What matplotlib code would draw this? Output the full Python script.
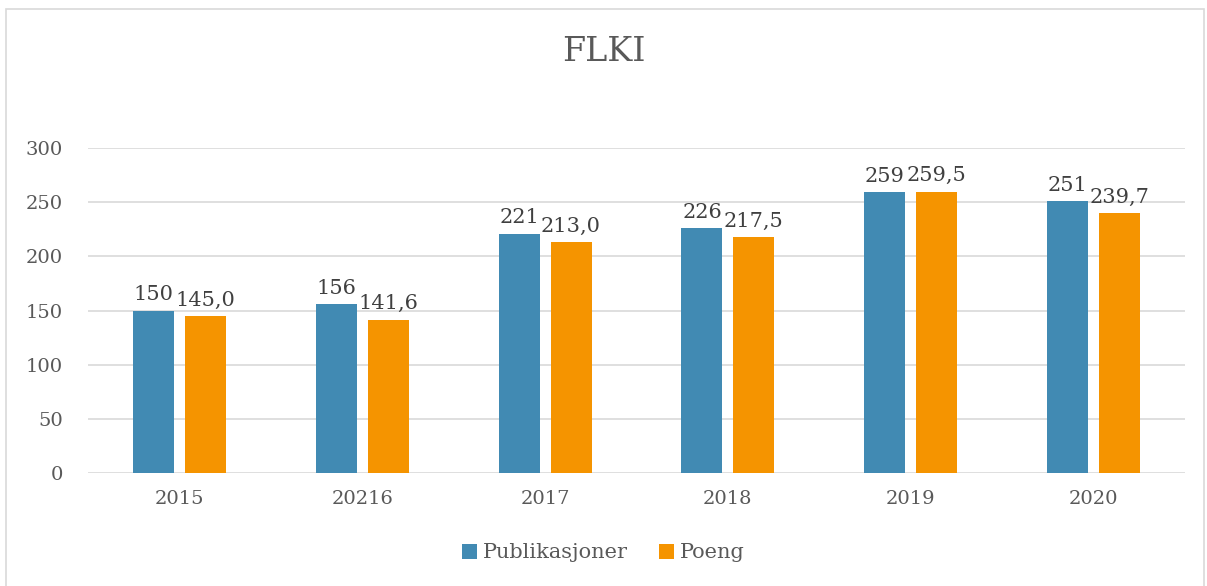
import matplotlib.pyplot as plt
import numpy as np
from matplotlib.patches import Rectangle

categories = ["2015", "20216", "2017", "2018", "2019", "2020"]
publikasjoner = [150, 156, 221, 226, 259, 251]
poeng = [145.0, 141.6, 213.0, 217.5, 259.5, 239.7]

BLUE = "#418AB3"
ORANGE = "#F59400"
TEXT = "#595959"

plt.rcParams["font.family"] = ["DejaVu Serif"]

fig = plt.figure(figsize=(12.07, 5.86), dpi=100, facecolor="white")
fig.patches.append(Rectangle((6 / 1207, -0.01), 1198 / 1207, 1 - 9 / 586 + 0.01,
                             transform=fig.transFigure, fill=False,
                             edgecolor="#D9D9D9", linewidth=1.2))

ax = fig.add_axes([88 / 1207, 1 - 473 / 586, (1185 - 88) / 1207, (473 - 148) / 586])
x = np.arange(len(categories))
w = 0.224
off = 0.142
b1 = ax.bar(x - off, publikasjoner, w, color=BLUE, label="Publikasjoner", zorder=3)
b2 = ax.bar(x + off, poeng, w, color=ORANGE, label="Poeng", zorder=3)

for rect, v in zip(b1, publikasjoner):
    ax.text(rect.get_x() + rect.get_width() / 2, v + 6, f"{v}", ha="center", va="bottom",
            fontsize=15, color="#404040")
for rect, v in zip(b2, poeng):
    ax.text(rect.get_x() + rect.get_width() / 2, v + 6, f"{v:.1f}".replace(".", ","),
            ha="center", va="bottom", fontsize=15, color="#404040")

ax.set_xlim(-0.5, len(categories) - 0.5)
ax.set_ylim(0, 300)
ax.set_yticks(range(0, 301, 50))
ax.set_xticks(x)
ax.set_xticklabels(categories)
ax.yaxis.grid(True, color="#D9D9D9", linewidth=1.2, zorder=0)
for s in ax.spines.values():
    s.set_visible(False)
ax.tick_params(length=0, labelsize=14, labelcolor=TEXT)
ax.tick_params(axis="y", pad=18)
ax.tick_params(axis="x", pad=12)

fig.text(0.5, 1 - 52 / 586, "FLKI", ha="center", va="center", fontsize=24, color=TEXT)

fig.legend(handles=[b1, b2], loc="center", bbox_to_anchor=(0.5, 1 - 553 / 586), ncol=2,
           frameon=False, fontsize=15, labelcolor=TEXT, handlelength=0.7, handleheight=0.7,
           handletextpad=0.3, columnspacing=1.5)

fig.savefig("out.png", dpi=100)
